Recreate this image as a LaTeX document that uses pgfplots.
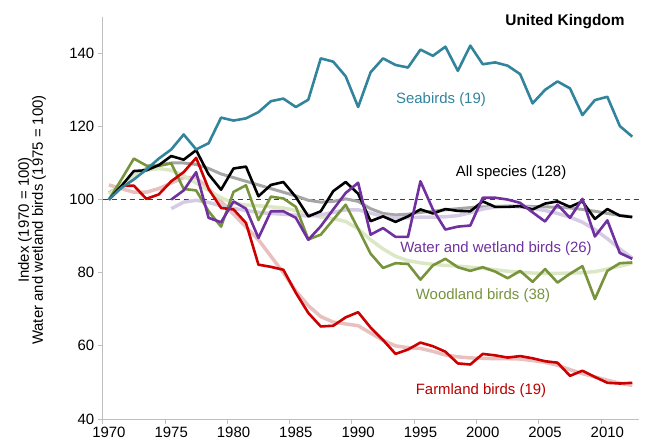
\documentclass[border=0pt]{standalone}
\usepackage{fontspec}
\setmainfont{Liberation Sans}
\usepackage{pgfplots}
\pgfplotsset{compat=1.18}
\definecolor{sea}{HTML}{31849B}
\definecolor{farm}{HTML}{CC0000}
\definecolor{wood}{HTML}{77933C}
\definecolor{water}{HTML}{7030A0}
\definecolor{allsp}{HTML}{000000}
\definecolor{allsm}{HTML}{A6A6A6}
\definecolor{farmsm}{HTML}{E8C0BF}
\definecolor{woodsm}{HTML}{DCE7C6}
\definecolor{watersm}{HTML}{D6CBE4}
\definecolor{axgray}{HTML}{BFBFBF}
\definecolor{dashgray}{HTML}{404040}
\begin{document}
\begin{tikzpicture}
\useasboundingbox (0,0) rectangle (649bp,443bp);
\begin{axis}[
  at={(102.7bp,24bp)}, anchor=south west,
  scale only axis, width=535.8bp, height=402.3bp,
  xmin=1969.5, xmax=2012.5, ymin=40, ymax=150,
  axis x line=bottom, axis y line=left,
  axis line style={-, draw=axgray, line width=1bp},
  xtick={1969.5,1974.5,1979.5,1984.5,1989.5,1994.5,1999.5,2004.5,2009.5},
  xticklabels={1970,1975,1980,1985,1990,1995,2000,2005,2010},
  x tick label style={xshift=6.23bp},
  ytick={40,60,80,100,120,140},
  tick align=outside, major tick length=5bp,
  every tick/.style={draw=axgray, line width=1bp},
  tick label style={font=\fontsize{15}{18}\selectfont, text=black},
  /pgf/number format/assume math mode=true,
  clip=false,
  line join=round,
]
% reference line
\addplot[dashgray, line width=1.2bp, dash pattern=on 5bp off 4bp] coordinates {(1969.5,100) (2012.5,100)};
% smoothed trends
\addplot[allsm, line width=3bp] coordinates {
(1970,101.8)(1971,104)(1972,106.5)(1973,108.5)(1974,109.5)(1975,110)(1976,110)(1977,109.6)(1978,108.5)(1979,107)(1980,106)(1981,105)(1982,104)(1983,103)(1984,102)(1985,101)(1986,99.8)(1987,99.3)(1988,99.5)(1989,100.2)(1990,99.5)(1991,97.5)(1992,96.2)(1993,95.8)(1994,96)(1995,96.5)(1996,96.8)(1997,97.2)(1998,97.5)(1999,97.8)(2000,98)(2001,98.1)(2002,98.2)(2003,98.2)(2004,98.1)(2005,98)(2006,97.9)(2007,97.7)(2008,97.3)(2009,96.8)(2010,96.2)(2011,95.7)(2012,95.3)};
\addplot[farmsm, line width=3.5bp] coordinates {
(1970,104)(1971,103)(1972,102)(1973,102)(1974,103)(1975,104.5)(1976,106)(1977,106)(1978,103)(1979,99.5)(1980,96)(1981,92.5)(1982,89)(1983,84.5)(1984,80)(1985,75)(1986,71)(1987,68)(1988,66.5)(1989,66)(1990,65.5)(1991,63.5)(1992,61.5)(1993,60)(1994,59.5)(1995,59.3)(1996,58.5)(1997,57.5)(1998,57)(1999,56.7)(2000,56.6)(2001,56.5)(2002,56.5)(2003,56.4)(2004,56)(2005,55.5)(2006,54.7)(2007,53.5)(2008,52.4)(2009,51.5)(2010,50.6)(2011,49.8)(2012,49.2)};
\addplot[woodsm, line width=3.5bp] coordinates {
(1970,101.5)(1971,104)(1972,106.5)(1973,108)(1974,108.5)(1975,108)(1976,106.5)(1977,104.5)(1978,102.5)(1979,100.5)(1980,99)(1981,98.5)(1982,98.3)(1983,98)(1984,97.7)(1985,97)(1986,96)(1987,95.2)(1988,94.8)(1989,94)(1990,92)(1991,89)(1992,86.5)(1993,84.5)(1994,83.3)(1995,82.7)(1996,82.3)(1997,82)(1998,81.8)(1999,81.5)(2000,81.2)(2001,80.8)(2002,80.4)(2003,80.1)(2004,79.9)(2005,79.8)(2006,79.8)(2007,79.9)(2008,80)(2009,80.3)(2010,81)(2011,81.8)(2012,82.6)};
\addplot[watersm, line width=3.5bp] coordinates {
(1975,97.5)(1976,99.3)(1977,99.8)(1978,99.2)(1979,98.3)(1980,97.6)(1981,97)(1982,96.5)(1983,96.2)(1984,96)(1985,95.7)(1986,95.5)(1987,95.8)(1988,96.5)(1989,97.2)(1990,97.2)(1991,96.3)(1992,95.4)(1993,95)(1994,95)(1995,95.2)(1996,95.2)(1997,95.3)(1998,95.6)(1999,96.4)(2000,97.4)(2001,98)(2002,98.2)(2003,98)(2004,97.6)(2005,97)(2006,96.2)(2007,95.2)(2008,93.8)(2009,91.8)(2010,89.3)(2011,86.5)(2012,84)};
% main series
\addplot[wood, line width=2.6bp] coordinates {
(1970,100)(1971,105.5)(1972,111.2)(1973,109.3)(1974,109.2)(1975,109.9)(1976,102.9)(1977,102.5)(1978,96.8)(1979,92.6)(1980,102.1)(1981,103.9)(1982,94.4)(1983,100.8)(1984,100.3)(1985,98)(1986,89.1)(1987,90.4)(1988,94.5)(1989,98.6)(1990,92)(1991,85.2)(1992,81.3)(1993,82.6)(1994,82.4)(1995,78.1)(1996,82)(1997,83.8)(1998,81.5)(1999,80.5)(2000,81.5)(2001,80.3)(2002,78.5)(2003,80.5)(2004,77.5)(2005,81)(2006,77.3)(2007,79.7)(2008,81.8)(2009,72.8)(2010,80.5)(2011,82.6)(2012,82.8)};
\addplot[farm, line width=2.6bp] coordinates {
(1970,100)(1971,103.7)(1972,103.8)(1973,100.2)(1974,101.4)(1975,105)(1976,107.5)(1977,111.4)(1978,102.9)(1979,97.7)(1980,97.3)(1981,93.6)(1982,82.2)(1983,81.6)(1984,80.8)(1985,74.5)(1986,69)(1987,65.3)(1988,65.5)(1989,67.8)(1990,69.2)(1991,65)(1992,61.6)(1993,57.8)(1994,59)(1995,60.9)(1996,59.9)(1997,58.4)(1998,55.2)(1999,54.9)(2000,57.8)(2001,57.4)(2002,56.8)(2003,57.2)(2004,56.6)(2005,55.8)(2006,55.4)(2007,51.8)(2008,53.2)(2009,51.5)(2010,49.9)(2011,49.7)(2012,49.9)};
\addplot[allsp, line width=2.6bp] coordinates {
(1970,100)(1971,103.7)(1972,107.8)(1973,108)(1974,109.4)(1975,111.9)(1976,110.9)(1977,113.5)(1978,106.9)(1979,102.7)(1980,108.5)(1981,109)(1982,100.9)(1983,104)(1984,104.8)(1985,100.7)(1986,95.4)(1987,96.8)(1988,102.3)(1989,104.8)(1990,101.6)(1991,94.1)(1992,95.4)(1993,93.9)(1994,95.4)(1995,97.3)(1996,96.2)(1997,97.4)(1998,96.9)(1999,96.8)(2000,99.5)(2001,98)(2002,98)(2003,98.2)(2004,97.3)(2005,98.9)(2006,99.5)(2007,98)(2008,99.5)(2009,94.7)(2010,97.4)(2011,95.6)(2012,95.2)};
\addplot[water, line width=2.6bp] coordinates {
(1975,100)(1976,102.5)(1977,107.5)(1978,95)(1979,93.8)(1980,99.5)(1981,97.5)(1982,89.5)(1983,96.8)(1984,96.8)(1985,95)(1986,89)(1987,92.7)(1988,97.3)(1989,101.8)(1990,104.6)(1991,90.4)(1992,92.2)(1993,89.8)(1994,89.8)(1995,105)(1996,97.3)(1997,91.8)(1998,92.6)(1999,92.9)(2000,100.5)(2001,100.5)(2002,100)(2003,99.1)(2004,96.5)(2005,94)(2006,98.6)(2007,95)(2008,100.2)(2009,89.9)(2010,94.3)(2011,85.4)(2012,83.8)};
\addplot[sea, line width=2.6bp] coordinates {
(1970,100)(1971,103.2)(1972,105.5)(1973,108.2)(1974,111.2)(1975,113.7)(1976,117.8)(1977,113.7)(1978,115.4)(1979,122.4)(1980,121.6)(1981,122.2)(1982,123.9)(1983,126.9)(1984,127.6)(1985,125.3)(1986,127.3)(1987,138.6)(1988,137.7)(1989,133.7)(1990,125.3)(1991,134.8)(1992,138.6)(1993,136.8)(1994,136.1)(1995,141)(1996,139.3)(1997,141.8)(1998,135.2)(1999,142.1)(2000,137)(2001,137.5)(2002,136.6)(2003,134.3)(2004,126.3)(2005,130)(2006,132.3)(2007,130.4)(2008,123.1)(2009,127.2)(2010,128.1)(2011,120.1)(2012,117.2)};
% series labels
\node[text=sea, font=\fontsize{15}{18}\selectfont] at (axis cs:1996.65,127.4) {Seabirds (19)};
\node[text=black, font=\fontsize{15}{18}\selectfont] at (axis cs:2002.27,107.4) {All species (128)};
\node[text=water, font=\fontsize{15}{18}\selectfont] at (axis cs:2001.07,86.56) {Water and wetland birds (26)};
\node[text=wood, font=\fontsize{15}{18}\selectfont] at (axis cs:2000.02,73.66) {Woodland birds (38)};
\node[text=farm!90!black, font=\fontsize{15}{18}\selectfont] at (axis cs:1999.86,47.87) {Farmland birds (19)};
\node[text=black, font=\bfseries\fontsize{15.5}{18}\selectfont] at (axis cs:2006.6,148.6) {United Kingdom};
\end{axis}
\node[rotate=90, align=center, font=\fontsize{15}{14}\selectfont] at (32bp,223bp) {Index (1970 = 100)\\Water and wetland birds (1975 = 100)};
\end{tikzpicture}
\end{document}
